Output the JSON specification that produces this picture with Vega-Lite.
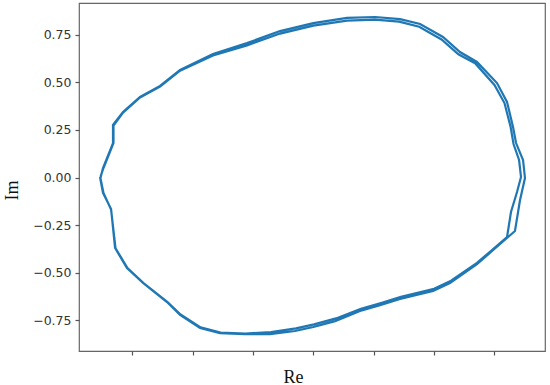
{
  "$schema": "https://vega.github.io/schema/vega-lite/v6.json",
  "autosize": {"type": "none"},
  "width": 466,
  "height": 348,
  "padding": {"left": 79, "top": 3, "right": 5, "bottom": 34},
  "background": "white",
  "config": {
    "view": {"stroke": "#666", "strokeWidth": 1.2},
    "axis": {"grid": false, "domain": false, "tickColor": "#555", "tickSize": 4, "tickWidth": 1.2}
  },
  "data": {
    "values": [
      {"i": 0, "x": -1.769, "y": 0.003},
      {"i": 1, "x": -1.744, "y": -0.081},
      {"i": 2, "x": -1.677, "y": -0.165},
      {"i": 3, "x": -1.644, "y": -0.370},
      {"i": 4, "x": -1.545, "y": -0.475},
      {"i": 5, "x": -1.412, "y": -0.554},
      {"i": 6, "x": -1.213, "y": -0.654},
      {"i": 7, "x": -1.105, "y": -0.722},
      {"i": 8, "x": -0.939, "y": -0.790},
      {"i": 9, "x": -0.774, "y": -0.817},
      {"i": 10, "x": -0.566, "y": -0.822},
      {"i": 11, "x": -0.359, "y": -0.822},
      {"i": 12, "x": -0.152, "y": -0.806},
      {"i": 13, "x": 0.000, "y": -0.785},
      {"i": 14, "x": 0.180, "y": -0.754},
      {"i": 15, "x": 0.387, "y": -0.701},
      {"i": 16, "x": 0.553, "y": -0.670},
      {"i": 17, "x": 0.719, "y": -0.638},
      {"i": 18, "x": 0.993, "y": -0.596},
      {"i": 19, "x": 1.133, "y": -0.554},
      {"i": 20, "x": 1.357, "y": -0.455},
      {"i": 21, "x": 1.482, "y": -0.386},
      {"i": 22, "x": 1.672, "y": -0.281},
      {"i": 23, "x": 1.714, "y": -0.118},
      {"i": 24, "x": 1.755, "y": -0.003},
      {"i": 25, "x": 1.739, "y": 0.092},
      {"i": 26, "x": 1.681, "y": 0.181},
      {"i": 27, "x": 1.656, "y": 0.265},
      {"i": 28, "x": 1.606, "y": 0.397},
      {"i": 29, "x": 1.523, "y": 0.496},
      {"i": 30, "x": 1.357, "y": 0.607},
      {"i": 31, "x": 1.216, "y": 0.659},
      {"i": 32, "x": 1.075, "y": 0.738},
      {"i": 33, "x": 0.885, "y": 0.806},
      {"i": 34, "x": 0.719, "y": 0.832},
      {"i": 35, "x": 0.512, "y": 0.843},
      {"i": 36, "x": 0.279, "y": 0.838},
      {"i": 37, "x": 0.000, "y": 0.811},
      {"i": 38, "x": -0.276, "y": 0.769},
      {"i": 39, "x": -0.550, "y": 0.706},
      {"i": 40, "x": -0.832, "y": 0.649},
      {"i": 41, "x": -1.105, "y": 0.565},
      {"i": 42, "x": -1.271, "y": 0.481},
      {"i": 43, "x": -1.437, "y": 0.423},
      {"i": 44, "x": -1.578, "y": 0.344},
      {"i": 45, "x": -1.661, "y": 0.276},
      {"i": 46, "x": -1.661, "y": 0.181},
      {"i": 47, "x": -1.744, "y": 0.050},
      {"i": 48, "x": -1.765, "y": -0.003},
      {"i": 49, "x": -1.740, "y": -0.081},
      {"i": 50, "x": -1.677, "y": -0.168},
      {"i": 51, "x": -1.640, "y": -0.372},
      {"i": 52, "x": -1.541, "y": -0.475},
      {"i": 53, "x": -1.408, "y": -0.554},
      {"i": 54, "x": -1.209, "y": -0.654},
      {"i": 55, "x": -1.101, "y": -0.719},
      {"i": 56, "x": -0.935, "y": -0.787},
      {"i": 57, "x": -0.769, "y": -0.814},
      {"i": 58, "x": -0.562, "y": -0.819},
      {"i": 59, "x": -0.351, "y": -0.812},
      {"i": 60, "x": -0.144, "y": -0.792},
      {"i": 61, "x": 0.006, "y": -0.771},
      {"i": 62, "x": 0.188, "y": -0.740},
      {"i": 63, "x": 0.395, "y": -0.690},
      {"i": 64, "x": 0.561, "y": -0.659},
      {"i": 65, "x": 0.727, "y": -0.627},
      {"i": 66, "x": 1.001, "y": -0.584},
      {"i": 67, "x": 1.142, "y": -0.542},
      {"i": 68, "x": 1.357, "y": -0.448},
      {"i": 69, "x": 1.472, "y": -0.386},
      {"i": 70, "x": 1.606, "y": -0.313},
      {"i": 71, "x": 1.639, "y": -0.181},
      {"i": 72, "x": 1.689, "y": -0.076},
      {"i": 73, "x": 1.722, "y": 0.003},
      {"i": 74, "x": 1.706, "y": 0.092},
      {"i": 75, "x": 1.660, "y": 0.176},
      {"i": 76, "x": 1.636, "y": 0.265},
      {"i": 77, "x": 1.585, "y": 0.391},
      {"i": 78, "x": 1.502, "y": 0.486},
      {"i": 79, "x": 1.345, "y": 0.598},
      {"i": 80, "x": 1.203, "y": 0.647},
      {"i": 81, "x": 1.063, "y": 0.725},
      {"i": 82, "x": 0.878, "y": 0.792},
      {"i": 83, "x": 0.711, "y": 0.819},
      {"i": 84, "x": 0.512, "y": 0.829},
      {"i": 85, "x": 0.279, "y": 0.824},
      {"i": 86, "x": 0.000, "y": 0.798},
      {"i": 87, "x": -0.276, "y": 0.756},
      {"i": 88, "x": -0.550, "y": 0.694},
      {"i": 89, "x": -0.832, "y": 0.641},
      {"i": 90, "x": -1.105, "y": 0.561},
      {"i": 91, "x": -1.271, "y": 0.478},
      {"i": 92, "x": -1.437, "y": 0.420},
      {"i": 93, "x": -1.578, "y": 0.341},
      {"i": 94, "x": -1.657, "y": 0.272},
      {"i": 95, "x": -1.657, "y": 0.181},
      {"i": 96, "x": -1.740, "y": 0.050},
      {"i": 97, "x": -1.765, "y": 0.003}
    ]
  },
  "mark": {"type": "line", "color": "#1f77b4", "strokeWidth": 2.2, "clip": true},
  "encoding": {
    "order": {"field": "i", "type": "quantitative"},
    "x": {
      "field": "x", "type": "quantitative",
      "scale": {"domain": [-1.943, 1.921], "nice": false, "zero": false},
      "axis": {
        "values": [-1.5, -1, -0.5, 0, 0.5, 1, 1.5],
        "labels": false,
        "title": "Re",
        "titleFont": "Liberation Serif",
        "titleFontSize": 18,
        "titleFontWeight": "normal",
        "titleColor": "#111",
        "titleX": 214,
        "titleY": 31,
        "titleBaseline": "alphabetic",
        "titleAlign": "center"
      }
    },
    "y": {
      "field": "y", "type": "quantitative",
      "scale": {"domain": [-0.911, 0.9165], "nice": false, "zero": false},
      "axis": {
        "values": [-0.75, -0.5, -0.25, 0, 0.25, 0.5, 0.75],
        "format": ".2f",
        "labelFont": "DejaVu Sans",
        "labelFontSize": 12.5,
        "labelColor": "#333",
        "labelPadding": 4,
        "title": "Im",
        "titleFont": "Liberation Serif",
        "titleFontSize": 18,
        "titleFontWeight": "normal",
        "titleColor": "#111",
        "titleX": -62,
        "titleY": 187,
        "titleAngle": -90,
        "titleBaseline": "alphabetic",
        "titleAlign": "center"
      }
    }
  }
}
